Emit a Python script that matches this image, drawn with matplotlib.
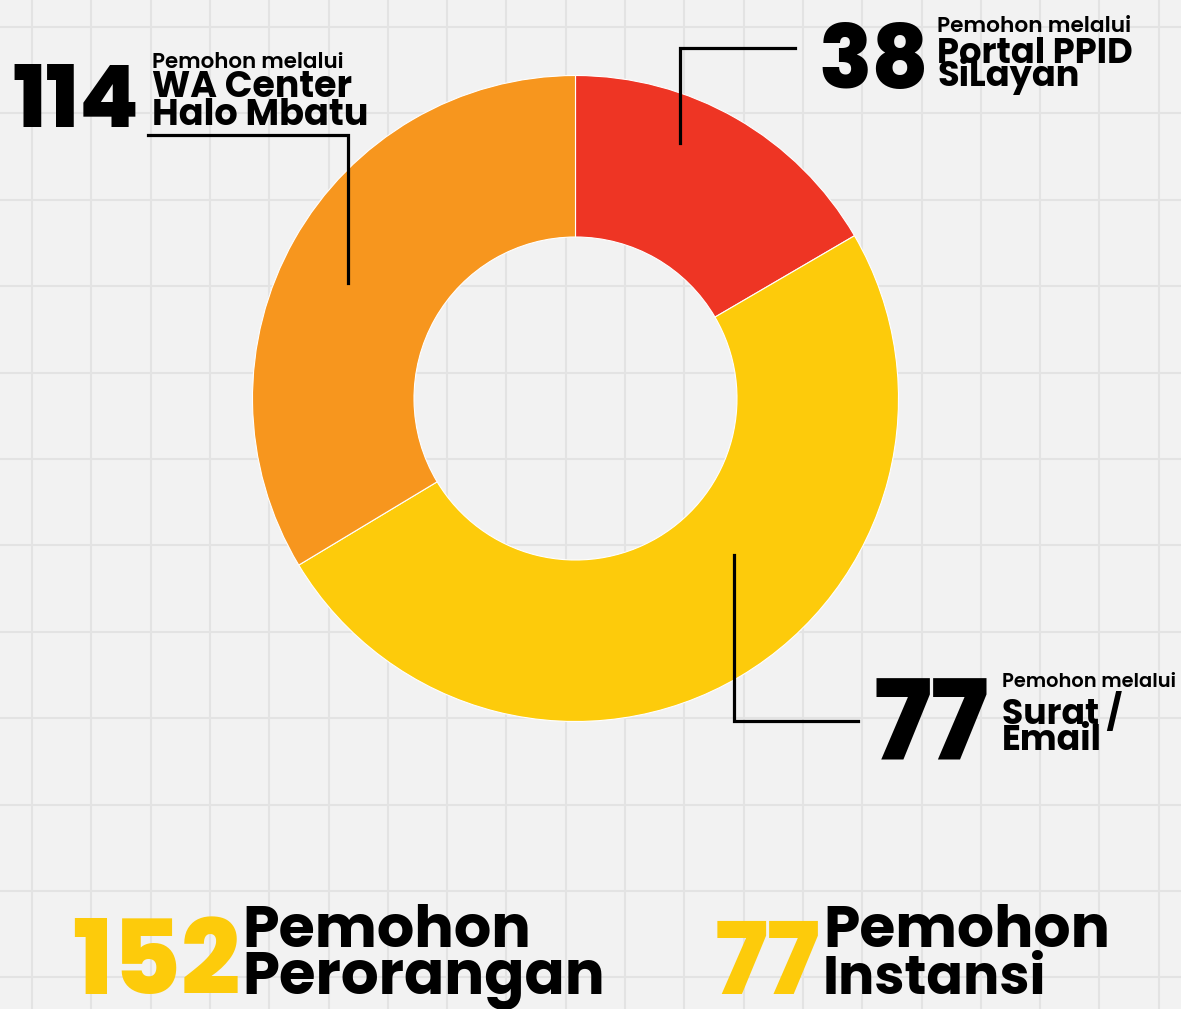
import matplotlib
matplotlib.use("Agg")
import matplotlib.pyplot as plt
from matplotlib import font_manager as fm
from matplotlib.font_manager import FontProperties
import numpy as np

# ---------------- data ----------------
wedge_names = ["Portal PPID SiLayan", "Surat / Email", "WA Center Halo Mbatu"]
wedge_values = [38, 114, 77]          # sizes as drawn in the donut
wedge_colors = ["#ee3524", "#fdcb0b", "#f7961e"]

label_numbers = ["114", "38", "77"]
label_lines = [
    ["Pemohon melalui", "WA Center", "Halo Mbatu"],
    ["Pemohon melalui", "Portal PPID", "SiLayan"],
    ["Pemohon melalui", "Surat /", "Email"],
]
summary_numbers = ["152", "77"]
summary_lines = [["Pemohon", "Perorangan"], ["Pemohon", "Instansi"]]

W, H = 1181, 1009
DPI = 100

# ---------------- font choice ----------------
def _w(f):
    ww = f.weight
    if isinstance(ww, str):
        ww = fm.weight_dict.get(ww, 400)
    return ww

def font_for(weight):
    cands = ["Poppins", "Montserrat", "Inter", "Lato", "Roboto", "Open Sans", "Noto Sans", "DejaVu Sans"]
    for fam in cands:
        entries = [f for f in fm.fontManager.ttflist if f.name == fam and f.style == "normal"]
        if not entries:
            continue
        e = min(entries, key=lambda f: (abs(_w(f) - weight), -_w(f)))
        return e.fname
    return None

F_NUM = font_for(800)
F_BOLD = font_for(700)
F_SEMI = font_for(600)

fig = plt.figure(figsize=(W / DPI, H / DPI), dpi=DPI)
fig.patch.set_facecolor("#f2f2f2")

# background axes with paper grid
bg = fig.add_axes([0, 0, 1, 1])
bg.set_xlim(0, W)
bg.set_ylim(H, 0)
bg.axis("off")
for gx in np.arange(32, W, 59.3):
    bg.axvline(gx, color="#e3e3e3", lw=1.5, zorder=1)
for gy in np.arange(27, H, 86.4):
    bg.axhline(gy, color="#e3e3e3", lw=1.5, zorder=1)

# donut
cx, cy, R = 575.5, 398.5, 323
pie_ax = fig.add_axes([(cx - R) / W, 1 - (cy + R) / H, 2 * R / W, 2 * R / H])
pie_ax.pie(wedge_values, colors=wedge_colors, startangle=90, counterclock=False,
           radius=1.0, wedgeprops=dict(width=0.5, edgecolor="white", linewidth=0.8))
pie_ax.set_xlim(-1, 1)
pie_ax.set_ylim(-1, 1)
pie_ax.axis("off")

# overlay
ov = fig.add_axes([0, 0, 1, 1])
ov.set_xlim(0, W)
ov.set_ylim(H, 0)
ov.axis("off")
ov.patch.set_alpha(0)

fig.canvas.draw()
renderer = fig.canvas.get_renderer()

def fit_text(s, x, y, width, font, color="black"):
    t = ov.text(x, y, s, fontproperties=FontProperties(fname=font, size=10),
                color=color, ha="left", va="baseline")
    bb = t.get_window_extent(renderer)
    size = 10 * width / bb.width
    t.set_fontproperties(FontProperties(fname=font, size=size))
    return t

# leader lines (pixel coordinates)
lw = 2.3
ov.plot([148, 348, 348], [134.5, 134.5, 283], color="black", lw=lw, solid_joinstyle="miter")
ov.plot([680, 680, 795], [143, 48, 48], color="black", lw=lw, solid_joinstyle="miter")
ov.plot([734, 734, 858], [555, 721, 721], color="black", lw=lw, solid_joinstyle="miter")

# label blocks
blocks = [
    dict(nx=(12, 140), nb=127, tx=152, lines=[(68, 193), (97, 200), (125, 217)]),
    dict(nx=(818, 929), nb=88, tx=937, lines=[(32, 195), (63, 196), (86, 142)]),
    dict(nx=(873, 990), nb=760, tx=1002, lines=[(687, 175), (724, 120), (750, 100)]),
]
for num, lines, b in zip(label_numbers, label_lines, blocks):
    fit_text(num, b["nx"][0], b["nb"], b["nx"][1] - b["nx"][0], F_NUM)
    for i, (s, (bl, wd)) in enumerate(zip(lines, b["lines"])):
        fit_text(s, b["tx"], bl, wd, F_SEMI if i == 0 else F_BOLD)

# summary blocks
summ = [
    dict(nx=(72, 241), nb=994, tx=242, lines=[(947, 289), (994, 363)]),
    dict(nx=(715, 822), nb=994, tx=823, lines=[(947, 287), (994, 223)]),
]
for num, lines, b in zip(summary_numbers, summary_lines, summ):
    fit_text(num, b["nx"][0], b["nb"], b["nx"][1] - b["nx"][0], F_NUM, color="#fdcb0b")
    for s, (bl, wd) in zip(lines, b["lines"]):
        fit_text(s, b["tx"], bl, wd, F_BOLD)

fig.savefig("out.png", dpi=DPI, facecolor=fig.get_facecolor())
